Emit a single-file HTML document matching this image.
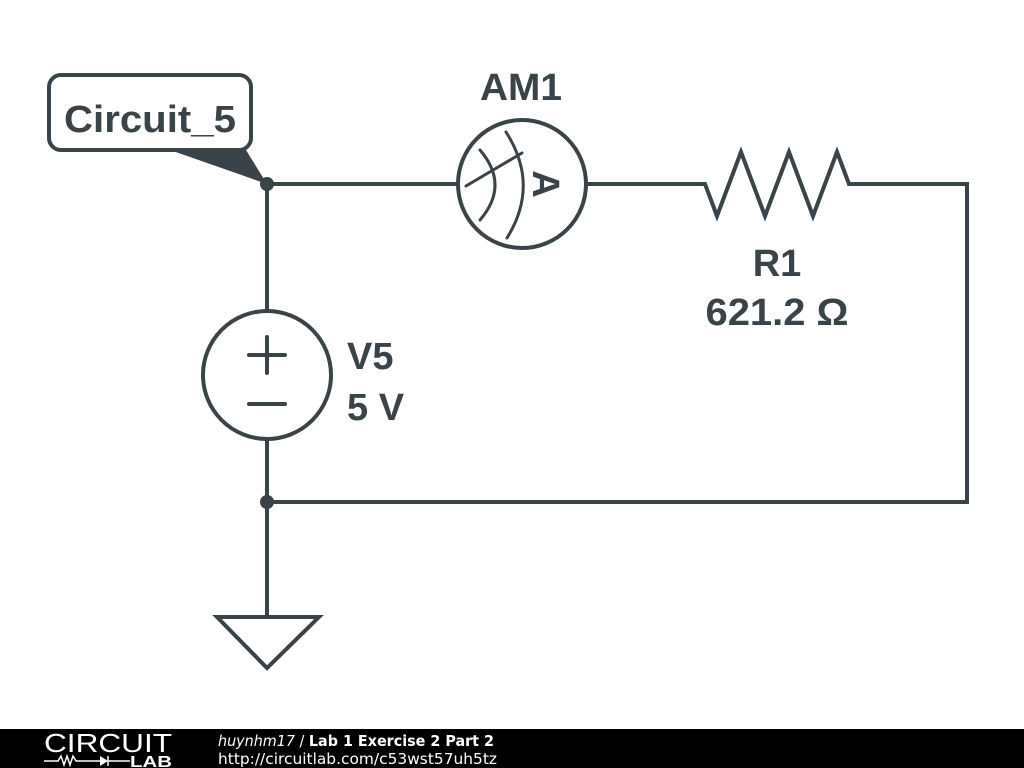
<!DOCTYPE html>
<html><head><style>
html,body{margin:0;padding:0;background:#fff;width:1024px;height:768px;overflow:hidden}
</style></head><body>
<svg width="1024" height="768" viewBox="0 0 1024 768" xmlns="http://www.w3.org/2000/svg" style="position:absolute;left:0;top:0">
<g stroke="#3a4347" stroke-width="4" fill="none" stroke-linecap="round" stroke-linejoin="miter">
<path d="M267 184 H458 M586 184 H705 L717 216 L741 152 L765 216 L789 152 L813 216 L837 152 L849 184 H967 V502 H267"/>
<path d="M267 184 V311 M267 439 V615"/>
<circle cx="522" cy="184" r="64"/>
<circle cx="267" cy="375" r="64"/>
<path d="M217 617 H319 L267 668 Z" stroke-linejoin="miter"/>
<path d="M249 355 H285 M267 337 V373 M249 404 H285"/>
<path d="M480 150 Q510 185 480 220" stroke-width="3"/>
<path d="M506 132 Q540 185 507 238" stroke-width="3"/>
<path d="M466 186 L522 153" stroke-width="3"/>
<rect x="49" y="75" width="202" height="75" rx="12" ry="12" fill="#fff"/>
</g>
<path d="M170 150 L246 150 L267 184 Z" fill="#3a4347"/>
<circle cx="267" cy="184" r="7" fill="#3a4347"/>
<circle cx="267" cy="502" r="7" fill="#3a4347"/>
<g font-family="Liberation Sans, sans-serif" font-weight="bold" fill="#3a4347">
<text x="150" y="132" font-size="38" text-anchor="middle" textLength="172" lengthAdjust="spacingAndGlyphs">Circuit_5</text>
<text x="521" y="100" font-size="38" text-anchor="middle" textLength="82" lengthAdjust="spacingAndGlyphs">AM1</text>
<text x="777" y="276" font-size="38" text-anchor="middle">R1</text>
<text x="777" y="325" font-size="38" text-anchor="middle" textLength="143" lengthAdjust="spacingAndGlyphs">621.2 Ω</text>
<text x="347" y="369" font-size="38">V5</text>
<text x="347" y="420" font-size="38">5 V</text>
<text x="0" y="0" font-size="38" text-anchor="middle" transform="translate(546 184) rotate(90)" dy="13">A</text>
</g>
<rect x="0" y="729" width="1024" height="39" fill="#000"/>
<text x="44" y="752" font-family="Liberation Sans, sans-serif" font-size="26" fill="#fff" textLength="128" lengthAdjust="spacingAndGlyphs">CIRCUIT</text>
<path d="M44 761 H58 L61 756 L64 765 L67 756 L70 765 L73 756 L76 761 H100" stroke="#fff" stroke-width="1.5" fill="none"/>
<path d="M100 756 L108 761 L100 766 Z" fill="#fff"/>
<path d="M108 756 V766 M108 761 H130" stroke="#fff" stroke-width="1.5"/>
<text x="130" y="767" font-family="Liberation Sans, sans-serif" font-weight="bold" font-size="16" fill="#fff" textLength="42" lengthAdjust="spacingAndGlyphs">LAB</text>
<text x="218" y="746" font-family="DejaVu Sans, sans-serif" font-size="15" fill="#fff" textLength="276" lengthAdjust="spacingAndGlyphs"><tspan font-style="italic">huynhm17</tspan> / <tspan font-weight="bold">Lab 1 Exercise 2 Part 2</tspan></text>
<text x="218" y="764" font-family="DejaVu Sans, sans-serif" font-size="15" fill="#fff" textLength="279" lengthAdjust="spacingAndGlyphs">http://circuitlab.com/c53wst57uh5tz</text>
</svg>
</body></html>
